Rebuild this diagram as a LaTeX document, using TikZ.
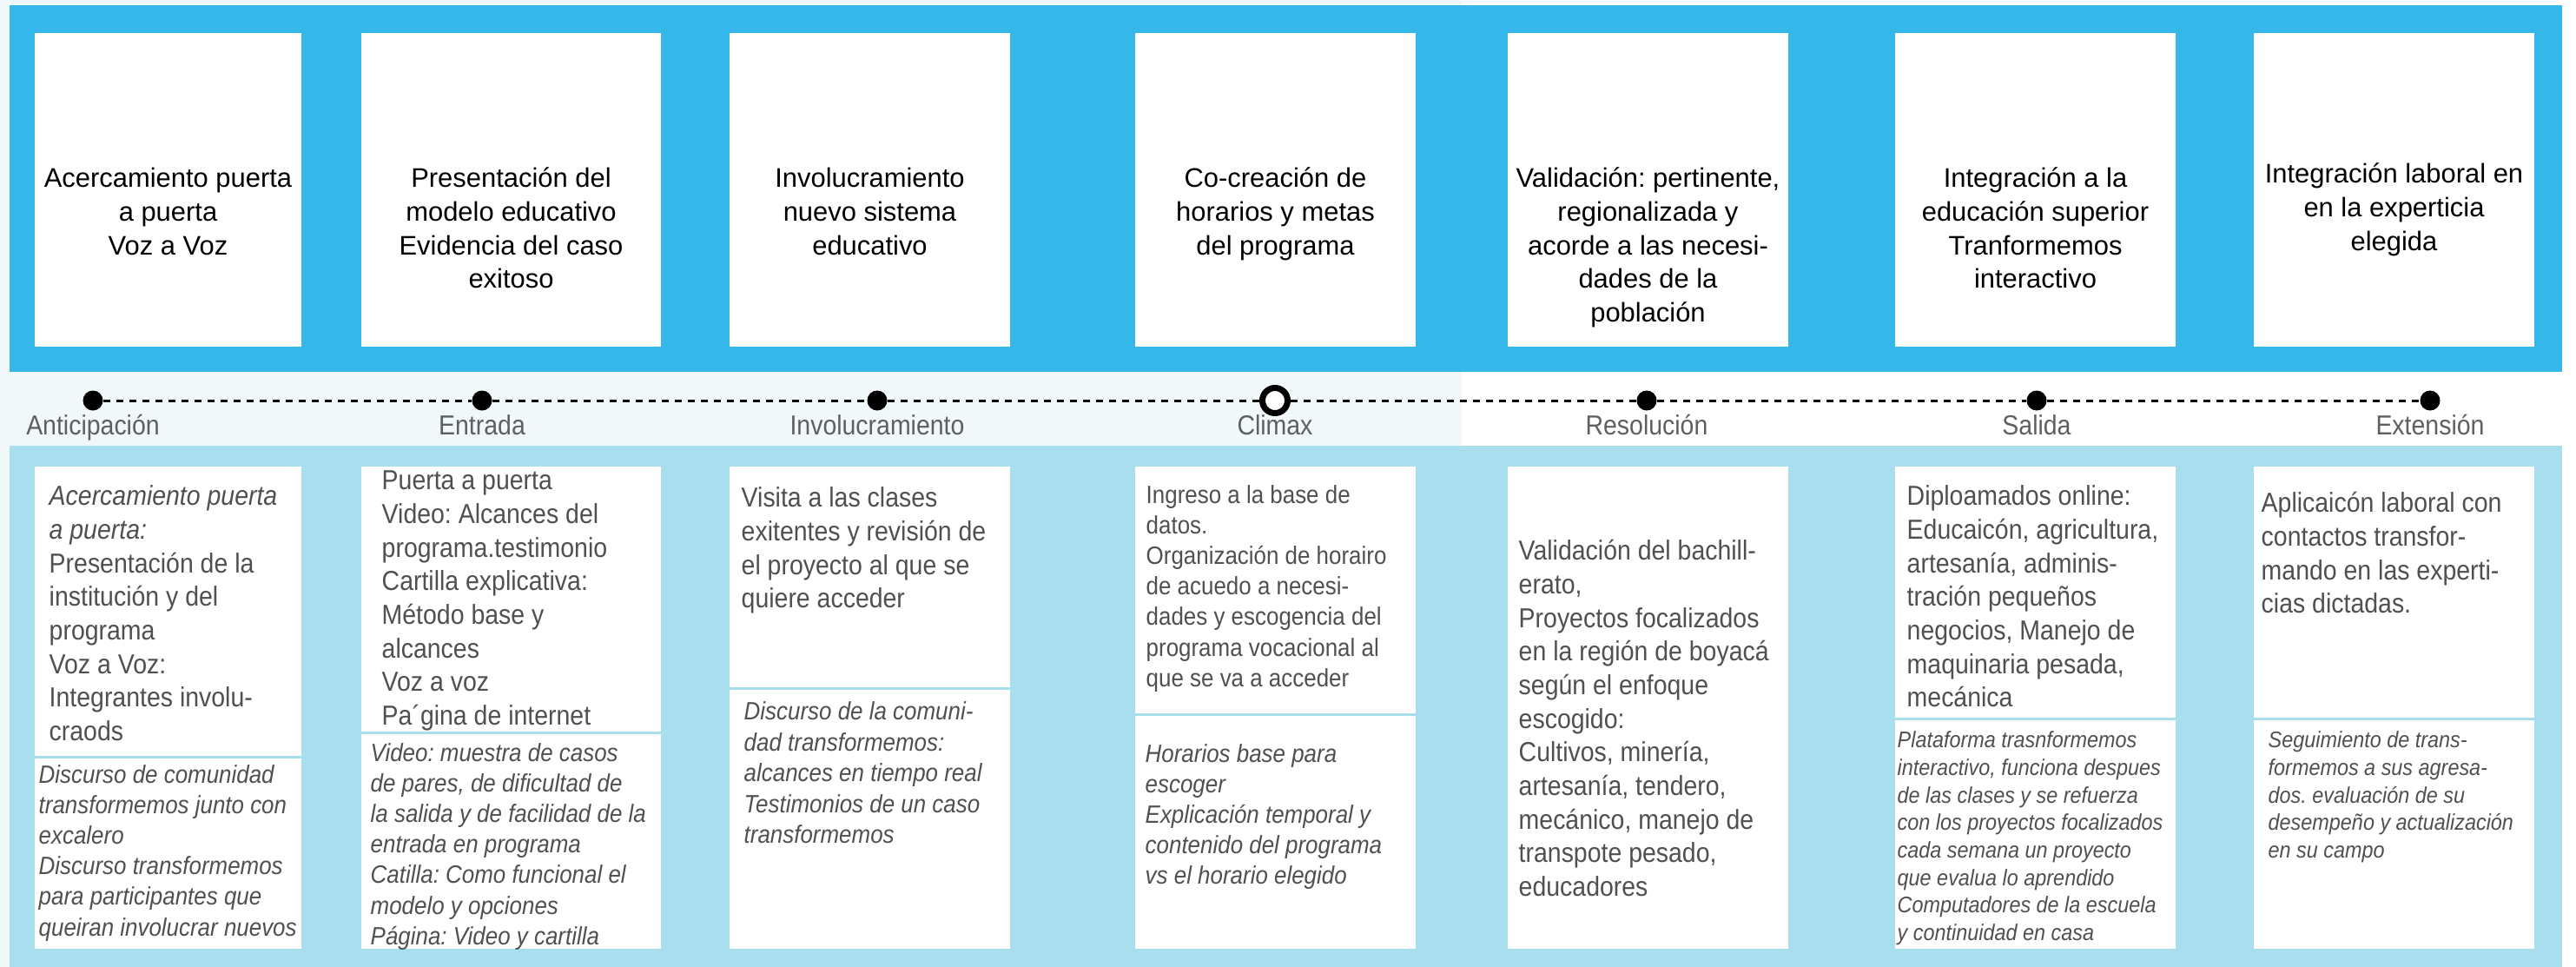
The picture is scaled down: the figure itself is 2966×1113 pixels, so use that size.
\documentclass[tikz,border=0pt]{standalone}
\usepackage{fontspec}
\setmainfont{Liberation Sans}
\newfontfamily\thinfont[FakeStretch=0.9]{Liberation Sans}
\usetikzlibrary{positioning}
\frenchspacing

\definecolor{topblue}{RGB}{54,183,233}
\definecolor{lowblue}{RGB}{169,222,238}
\definecolor{palebg}{RGB}{240,248,250}
\definecolor{notegray}{RGB}{80,80,80}
\definecolor{lblgray}{RGB}{95,95,95}

\tikzset{
  headtxt/.style={font=\fontsize{8.8}{11}\selectfont, align=center, anchor=north, inner sep=0pt, text=black},
  notetxt/.style={font=\thinfont\fontsize{9}{11}\selectfont, align=left, anchor=north west, inner sep=0pt, text=notegray},
  notesm/.style={font=\thinfont\itshape\fontsize{8.2}{10}\selectfont, align=left, anchor=north west, inner sep=0pt, text=notegray},
  notexs/.style={font=\thinfont\itshape\fontsize{7.4}{9}\selectfont, align=left, anchor=north west, inner sep=0pt, text=notegray},
  divider/.style={lowblue, line width=0.3mm},
  dot/.style={circle, fill=black, inner sep=0pt, minimum size=2.3mm},
  opendot/.style={circle, draw=black, fill=white, line width=0.7mm, inner sep=0pt, minimum size=2.9mm},
  timeline/.style={line width=0.3mm, dash pattern=on 0.8mm off 0.7mm},
  steplbl/.style={font=\thinfont\fontsize{9}{11}\selectfont, text=lblgray, anchor=base, inner sep=0pt}
}

\begin{document}
\begin{tikzpicture}[x=0.1mm, y=-0.1mm]
  \useasboundingbox (0,0) rectangle (2966,1113);

  % background bands
  \fill[palebg] (0,0) rectangle (1683,513);
  \fill[palebg] (0,0) rectangle (11,1113);
  \fill[topblue] (11,6) rectangle (2950,428);
  \fill[lowblue] (11,513) rectangle (2950,1113);

  % white cards, top and bottom
  \foreach \l/\r in {40/347, 416/761, 840/1163, 1307/1630, 1736/2059, 2182/2505, 2595/2918} {
    \fill[white] (\l,38) rectangle (\r,399);
    \fill[white] (\l,537) rectangle (\r,1092);
  }
  \foreach \l/\r/\y in {40/347/871, 416/761/843, 840/1163/792, 1307/1630/822, 2182/2505/827, 2595/2918/827}
    \draw[divider] (\l,\y) -- (\r,\y);

  % stage titles
  \node[headtxt] (h1) at (193.5,188) {\strut Acercamiento puerta\\a puerta\\Voz a Voz};
  \node[headtxt] (h2) at (588.5,188) {\strut Presentación del\\modelo educativo\\Evidencia del caso\\exitoso};
  \node[headtxt] (h3) at (1001.5,188) {\strut Involucramiento\\nuevo sistema\\educativo};
  \node[headtxt] (h4) at (1468.5,188) {\strut Co-creación de\\horarios y metas\\del programa};
  \node[headtxt] (h5) at (1897.5,188) {\strut Validación: pertinente,\\regionalizada y\\acorde a las necesi-\\dades de la\\población};
  \node[headtxt] (h6) at (2343.5,188) {\strut Integración a la\\educación superior\\Tranformemos\\interactivo};
  \node[headtxt] (h7) at (2756.5,183) {\strut Integración laboral en\\en la experticia\\elegida};

  % timeline
  \foreach \x/\n in {107/ant, 555/ent, 1010/inv, 1896/res, 2345/sal, 2798/ext}
    \node[dot] (\n) at (\x,461) {};
  \node[opendot] (cli) at (1468,461) {};
  \draw[timeline] (ant) -- (ent) -- (inv) -- (cli) -- (res) -- (sal) -- (ext);

  \foreach \n/\t in {ant/Anticipación, ent/Entrada, inv/Involucramiento, cli/Climax, res/Resolución, sal/Salida, ext/Extensión}
    \node[steplbl] (lbl-\n) at (\n |- 0,500) {\t};

  % bottom notes
  \node[notetxt] (n1) at (56,554) {\strut{\itshape Acercamiento puerta}\\{\itshape a puerta:}\\Presentación de la\\institución y del\\programa\\Voz a Voz:\\Integrantes involu-\\craods};
  \node[notesm] (m1) at (44,876) {\strut Discurso de comunidad\\transformemos junto con\\excalero\\Discurso transformemos\\para participantes que\\queiran involucrar nuevos};

  \node[notetxt] (n2) at (439,536) {\strut Puerta a puerta\\Video: Alcances del\\programa.testimonio\\Cartilla explicativa:\\Método base y\\alcances\\Voz a voz\\Pa´gina de internet};
  \node[notesm] (m2) at (426,851) {\strut Video: muestra de casos\\de pares, de dificultad de\\la salida y de facilidad de la\\entrada en programa\\Catilla: Como funcional el\\modelo y opciones\\Página: Video y cartilla};

  \node[notetxt] (n3) at (853,556) {\strut Visita a las clases\\exitentes y revisión de\\el proyecto al que se\\quiere acceder};
  \node[notesm, font=\thinfont\itshape\fontsize{8.2}{10.1}\selectfont] (m3) at (856,803) {\strut Discurso de la comuni-\\dad transformemos:\\alcances en tiempo real\\Testimonios de un caso\\transformemos};

  \node[notesm, font=\thinfont\fontsize{8.2}{10}\selectfont] (n4) at (1319,554) {\strut Ingreso a la base de\\datos.\\Organización de horairo\\de acuedo a necesi-\\dades y escogencia del\\programa vocacional al\\que se va a acceder};
  \node[notesm] (m4) at (1318,852) {\strut Horarios base para\\escoger\\Explicación temporal y\\contenido del programa\\vs el horario elegido};

  \node[notetxt] (n5) at (1748,617) {\strut Validación del bachill-\\erato,\\Proyectos focalizados\\en la región de boyacá\\según el enfoque\\escogido:\\Cultivos, minería,\\artesanía, tendero,\\mecánico, manejo de\\transpote pesado,\\educadores};

  \node[notetxt] (n6) at (2195,554) {\strut Diploamados online:\\Educaicón, agricultura,\\artesanía, adminis-\\tración pequeños\\negocios, Manejo de\\maquinaria pesada,\\mecánica};
  \node[notexs] (m6) at (2184,838) {\strut Plataforma trasnformemos\\interactivo, funciona despues\\de las clases y se refuerza\\con los proyectos focalizados\\cada semana un proyecto\\que evalua lo aprendido\\Computadores de la escuela\\y continuidad en casa};

  \node[notetxt] (n7) at (2603,562) {\strut Aplicaicón laboral con\\contactos transfor-\\mando en las experti-\\cias dictadas.};
  \node[notexs] (m7) at (2611,838) {\strut Seguimiento de trans-\\formemos a sus agresa-\\dos. evaluación de su\\desempeño y actualización\\en su campo};
\end{tikzpicture}
\end{document}
